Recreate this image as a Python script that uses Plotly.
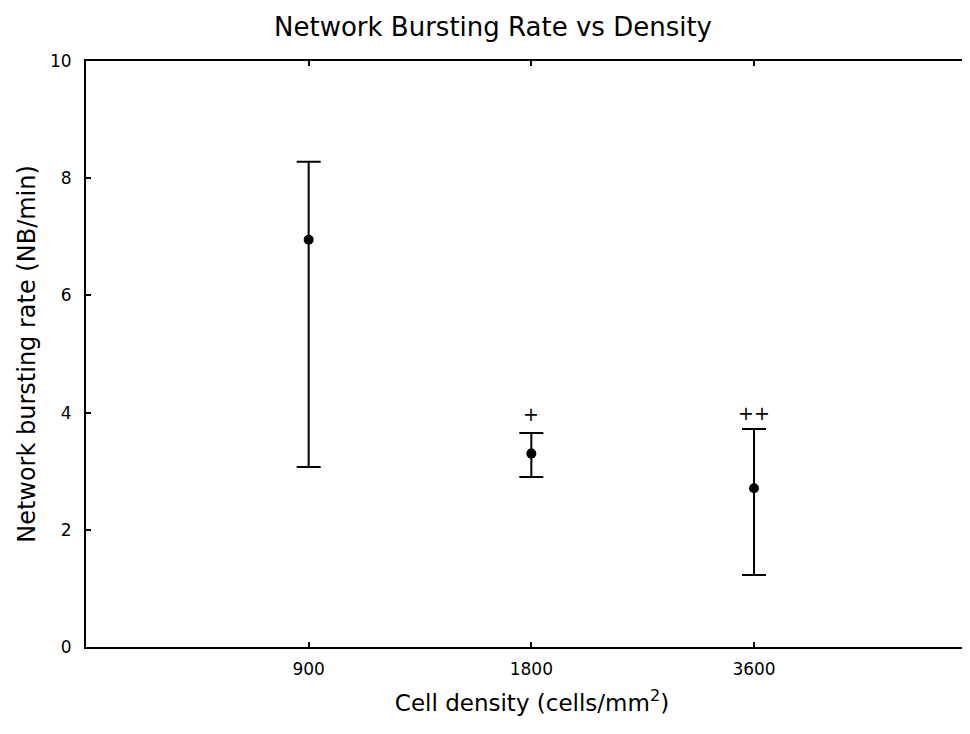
import plotly.graph_objects as go

densities = ["900", "1800", "3600"]
means = [6.95, 3.30, 2.71]
upper = [8.28, 3.65, 3.72]
lower = [3.07, 2.90, 1.23]
marks = ["", "+", "++"]
mark_y = [0, 3.97, 3.99]

err_plus = [u - m for u, m in zip(upper, means)]
err_minus = [m - l for m, l in zip(means, lower)]

FONT = "DejaVu Sans"

fig = go.Figure()
fig.add_trace(go.Scatter(
    x=densities, y=means, mode="markers",
    marker=dict(color="black", size=10),
    error_y=dict(type="data", symmetric=False, array=err_plus, arrayminus=err_minus,
                 color="black", thickness=2, width=12),
    showlegend=False,
))
for i, (t, y) in enumerate(zip(marks, mark_y)):
    if t:
        fig.add_annotation(x=i, y=y, xref="x", yref="y", text=t, showarrow=False,
                           font=dict(size=19, color="black", family=FONT),
                           yanchor="middle", xanchor="center")

fig.update_layout(
    width=970, height=734,
    paper_bgcolor="white", plot_bgcolor="white",
    margin=dict(l=78, r=0, t=53, b=95),
    font=dict(family=FONT, color="black", size=17),
    title=dict(text="Network Bursting Rate vs Density", x=0.5, xanchor="center",
               y=1 - 19 / 734, yanchor="middle", font=dict(size=26)),
)
fig.update_xaxes(
    type="category", range=[-1, 3.006], showgrid=False, zeroline=False,
    showline=True, linecolor="black", linewidth=2, mirror="ticks",
    ticks="inside", ticklen=5, tickwidth=1.5, tickcolor="black",
    ticklabelstandoff=6,
    title=dict(text="Cell density (cells/mm<sup>2</sup>)", font=dict(size=23), standoff=16),
    tickfont=dict(size=17),
)
fig.update_yaxes(
    range=[0, 10], dtick=2, showgrid=False, zeroline=False,
    showline=True, linecolor="black", linewidth=2, mirror=False,
    ticks="inside", ticklen=5, tickwidth=1.5, tickcolor="black",
    ticklabelstandoff=9,
    title=dict(text="Network bursting rate (NB/min)", font=dict(size=24), standoff=8),
    tickfont=dict(size=17),
)

fig.write_html("out.html")
